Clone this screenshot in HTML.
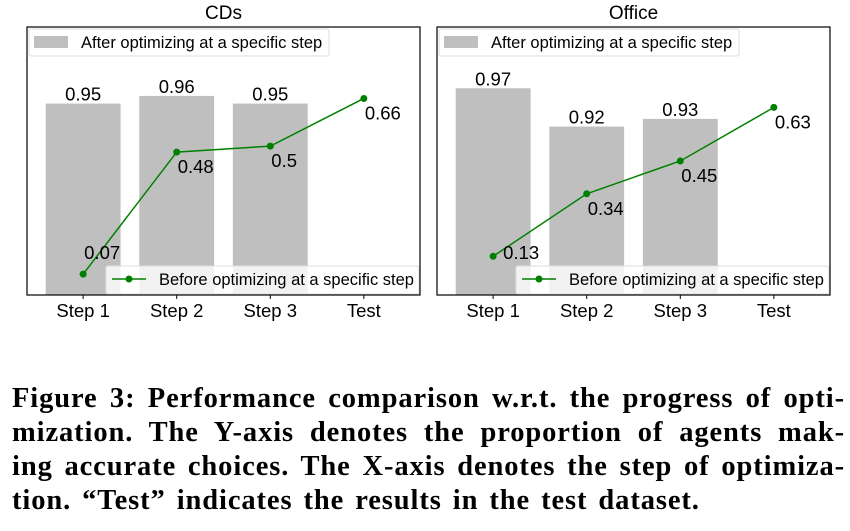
<!DOCTYPE html>
<html><head><meta charset="utf-8">
<style>
html,body{margin:0;padding:0;background:#fff;}
body{width:850px;height:531px;position:relative;overflow:hidden;}
svg{position:absolute;left:0;top:0;}
.cap{position:absolute;left:12px;width:833px;font-family:"Liberation Serif",serif;font-weight:bold;font-size:28.5px;letter-spacing:0.9px;word-spacing:3px;text-align:justify;text-align-last:justify;white-space:nowrap;line-height:34px;}
.cap.last{text-align-last:left;}
</style></head>
<body>
<svg id="chart" width="850" height="340" font-family="Liberation Sans, sans-serif"></svg>
<div class="cap" style="top:382px">Figure 3: Performance comparison w.r.t. the progress of opti-</div>
<div class="cap" style="top:416px">mization. The Y-axis denotes the proportion of agents mak-</div>
<div class="cap" style="top:450px">ing accurate choices. The X-axis denotes the step of optimiza-</div>
<div class="cap last" style="top:484px">tion. “Test” indicates the results in the test dataset.</div>
<script>
const categories = ["Step 1","Step 2","Step 3","Test"];
const titles = ["CDs","Office"];
const afterCDs = [0.95,0.96,0.95];
const beforeCDs = [0.07,0.48,0.5,0.66];
const afterOffice = [0.97,0.92,0.93];
const beforeOffice = [0.13,0.34,0.45,0.63];
const barDomain = [0.7,1.05];
const lineDomain = [0,0.9];

const NS="http://www.w3.org/2000/svg";
const svg=document.getElementById('chart');
function mk(tag,attrs,parent){const e=document.createElementNS(NS,tag);for(const k in attrs)e.setAttribute(k,attrs[k]);(parent||svg).appendChild(e);return e;}

function drawPanel(idx,left,after,before){
  const top=27,bottom=295,right=left+393,W=right-left;
  const g=mk('g',{});
  
  
  const step=W/4.2, x0=left+step*0.6;
  const xc=i=>x0+i*step;
  const yb=v=>bottom-(v-barDomain[0])/(barDomain[1]-barDomain[0])*(bottom-top);
  const yl=v=>bottom-(v-lineDomain[0])/(lineDomain[1]-lineDomain[0])*(bottom-top);
  const bw=step*0.8;
  const t=mk('text',{x:(left+right)/2,y:19,'text-anchor':'middle','font-size':19},g);t.textContent=titles[idx];
  
  after.forEach((v,i)=>{
    const r=mk('rect',{x:xc(i)-bw/2,y:yb(v),width:bw,height:bottom-yb(v),fill:'#bfbfbf'},g);
    
    
    const l=mk('text',{x:xc(i),y:yb(v)-3,'text-anchor':'middle','font-size':18.5},g);l.textContent=String(v);
    
  });
  const tl=mk('g',{},g);
  
  mk('rect',{x:left+2,y:top+2,width:300,height:27,rx:2,fill:'#fff','fill-opacity':0.8,stroke:'#ddd'},tl);
  mk('rect',{x:left+7,y:top+9,width:34,height:12,fill:'#bfbfbf'},tl);
  const tt=mk('text',{x:left+54,y:top+21,'font-size':16.5},tl);tt.textContent='After optimizing at a specific step';
  const pts=before.map((v,i)=>xc(i)+','+yl(v)).join(' ');
  const pl=mk('polyline',{points:pts,fill:'none',stroke:'#008000','stroke-width':1.5},g);
  
  before.forEach((v,i)=>{
    const c=mk('circle',{cx:xc(i),cy:yl(v),r:3.5,fill:'#008000'},g);
    
  });
  const bl=mk('g',{},g);
  
  mk('rect',{x:right-314,y:266,width:313,height:28,rx:2,fill:'#fff','fill-opacity':0.8,stroke:'#ddd'},bl);
  mk('line',{x1:right-308,y1:279,x2:right-274,y2:279,stroke:'#008000','stroke-width':1.5},bl);
  mk('circle',{cx:right-291,cy:279,r:3.5,fill:'#008000'},bl);
  const bt=mk('text',{x:right-261,y:285,'font-size':16.5},bl);bt.textContent='Before optimizing at a specific step';
  before.forEach((v,i)=>{
    const y=Math.min(yl(v)+21,259);
    const l=mk('text',{x:xc(i)+(i===0&&yl(v)+21>259&&yl(v)<265?10:1),y:y,'font-size':18.5},g);l.textContent=String(v);
    
  });
  mk('rect',{x:left,y:top,width:W,height:bottom-top,fill:'none',stroke:'#000','stroke-width':1.2},g);
  categories.forEach((c,i)=>{
    mk('line',{x1:xc(i),y1:bottom,x2:xc(i),y2:bottom+4,stroke:'#000'},g);
    const tk=mk('text',{x:xc(i),y:317,'text-anchor':'middle','font-size':18.5},g);tk.textContent=c;
    
  });
}
drawPanel(0,27,afterCDs,beforeCDs);
drawPanel(1,437,afterOffice,beforeOffice);
</script>
</body></html>
